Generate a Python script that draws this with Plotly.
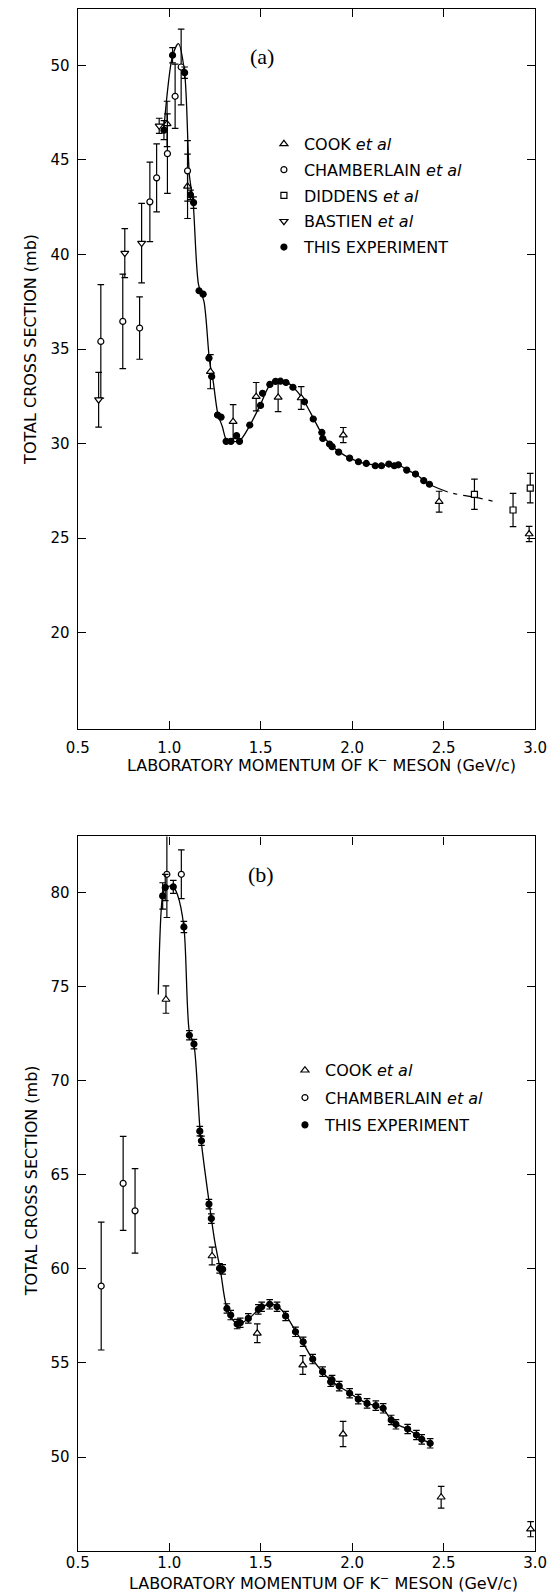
import plotly.graph_objects as go

# ---------------- Panel (a) data ----------------
cook_a_x = [0.988, 1.100, 1.225, 1.349, 1.475, 1.595, 1.721, 1.951, 2.475, 2.967]
cook_a_y = [46.9, 43.6, 33.8, 31.16, 32.48, 32.44, 32.41, 30.45, 26.93, 25.22]
cook_a_err = [1.2, 1.7, 0.9, 0.9, 0.75, 0.75, 0.6, 0.4, 0.55, 0.4]

cham_a_x = [0.626, 0.746, 0.838, 0.894, 0.931, 0.990, 1.032, 1.065, 1.100]
cham_a_y = [35.40, 36.46, 36.11, 42.78, 44.05, 45.33, 48.36, 49.91, 44.42]
cham_a_err = [3.0, 2.5, 1.65, 2.1, 1.8, 2.1, 1.7, 2.0, 1.6]

didd_a_x = [2.668, 2.879, 2.973]
didd_a_y = [27.32, 26.49, 27.65]
didd_a_err = [0.8, 0.88, 0.78]

bast_a_x = [0.614, 0.757, 0.849, 0.945]
bast_a_y = [32.32, 40.07, 40.6, 46.8]
bast_a_err = [1.45, 1.3, 2.1, 0.4]

this_a_x = [0.971, 1.018, 1.084, 1.116, 1.133, 1.163, 1.185, 1.217, 1.232, 1.264,
            1.283, 1.311, 1.337, 1.368, 1.384, 1.440, 1.499, 1.510, 1.550, 1.581,
            1.608, 1.638, 1.676, 1.739, 1.787, 1.834, 1.839, 1.876, 1.890, 1.926,
            1.986, 2.034, 2.077, 2.126, 2.160, 2.200, 2.230, 2.252, 2.298, 2.346,
            2.391, 2.422]
this_a_y = [46.57, 50.53, 49.61, 43.15, 42.74, 38.08, 37.90, 34.52, 33.55, 31.51,
            31.40, 30.12, 30.12, 30.42, 30.12, 30.98, 32.02, 32.66, 33.13, 33.29,
            33.30, 33.23, 32.98, 32.21, 31.30, 30.59, 30.27, 29.98, 29.84, 29.55,
            29.23, 29.04, 28.95, 28.83, 28.83, 28.92, 28.83, 28.88, 28.60, 28.39,
            28.04, 27.85]
this_a_err = [0.5, 0.4, 0.3, 0.25, 0.3] + [0.0] * 37

curve_a_x = [0.97, 1.018, 1.05, 1.084, 1.11, 1.13, 1.16, 1.19, 1.22, 1.24, 1.265, 1.29,
             1.315, 1.35, 1.385, 1.44, 1.50, 1.55, 1.60, 1.65, 1.70, 1.74, 1.79, 1.835,
             1.88, 1.93, 1.99, 2.05, 2.10, 2.16, 2.22, 2.26, 2.30, 2.35, 2.39, 2.42]
curve_a_y = [46.6, 50.5, 51.15, 49.6, 44.2, 42.8, 38.4, 37.5, 34.4, 33.3, 31.6, 30.9,
             30.15, 30.1, 30.15, 30.95, 32.1, 33.1, 33.35, 33.2, 32.75, 32.2, 31.3, 30.5,
             29.95, 29.55, 29.22, 29.0, 28.9, 28.84, 28.88, 28.85, 28.6, 28.38, 28.05, 27.85]
dash_a_x = [2.42, 2.53, 2.69, 2.77]
dash_a_y = [27.85, 27.42, 27.13, 26.95]

# ---------------- Panel (b) data ----------------
cook_b_x = [0.982, 1.234, 1.481, 1.730, 1.950, 2.486, 2.975]
cook_b_y = [74.33, 60.69, 56.58, 54.89, 51.22, 47.86, 46.16]
cook_b_err = [0.73, 0.47, 0.5, 0.5, 0.67, 0.58, 0.4]

cham_b_x = [0.628, 0.748, 0.813, 0.987, 1.066]
cham_b_y = [59.09, 64.55, 63.09, 80.99, 80.99]
cham_b_err = [3.4, 2.5, 2.25, 2.3, 1.3]

this_b_x = [0.964, 0.978, 1.022, 1.080, 1.110, 1.135, 1.167, 1.176, 1.217, 1.230,
            1.275, 1.292, 1.315, 1.336, 1.371, 1.388, 1.432, 1.487, 1.505, 1.549,
            1.589, 1.636, 1.690, 1.732, 1.784, 1.838, 1.882, 1.890, 1.929, 1.986,
            2.033, 2.081, 2.129, 2.169, 2.213, 2.239, 2.303, 2.351, 2.380, 2.426]
this_b_y = [79.84, 80.29, 80.32, 78.19, 72.43, 71.96, 67.33, 66.82, 63.45, 62.68,
            60.03, 59.98, 57.90, 57.55, 57.07, 57.14, 57.37, 57.85, 57.99, 58.12,
            57.99, 57.50, 56.66, 56.13, 55.21, 54.54, 54.00, 54.09, 53.77, 53.39,
            53.08, 52.85, 52.73, 52.59, 51.97, 51.74, 51.49, 51.17, 50.94, 50.73]
this_b_err = [0.7, 0.7, 0.35, 0.3] + [0.25] * 36

curve_b_x = [0.94, 0.963, 0.98, 1.02, 1.045, 1.08, 1.11, 1.135, 1.17, 1.22, 1.25, 1.28,
             1.31, 1.34, 1.37, 1.40, 1.44, 1.49, 1.55, 1.60, 1.64, 1.69, 1.73, 1.78,
             1.84, 1.89, 1.93, 1.99, 2.04, 2.09, 2.13, 2.17, 2.21, 2.24, 2.30, 2.35,
             2.38, 2.43]
curve_b_y = [74.6, 79.8, 80.3, 80.35, 79.9, 78.2, 72.6, 71.9, 67.2, 63.4, 61.4, 59.9,
             58.1, 57.4, 57.1, 57.15, 57.4, 57.85, 58.15, 57.95, 57.5, 56.7, 56.1, 55.25,
             54.5, 54.0, 53.75, 53.38, 53.05, 52.83, 52.72, 52.55, 52.0, 51.75, 51.5, 51.17,
             50.95, 50.72]

x_ticks = [0.5, 1.0, 1.5, 2.0, 2.5, 3.0]
x_ticktext = ["0.5", "1.0", "1.5", "2.0", "2.5", "3.0"]
ya_ticks = [20, 25, 30, 35, 40, 45, 50]
yb_ticks = [50, 55, 60, 65, 70, 75, 80]

# page body has an 8px default margin: size the figure so it ends at the window edge
PAGE_W, PAGE_H, BODY = 560, 1594, 8
W, H = PAGE_W - BODY, PAGE_H - BODY


def fx(p):  # screen x pixel -> paper fraction
    return (p - BODY) / W


def fy(p):  # screen y pixel -> paper fraction
    return 1 - (p - BODY) / H


SANS = "DejaVu Sans"
BLACK = "black"

fig = go.Figure()


def err(vals):
    return dict(type="data", array=vals, visible=True, color=BLACK, thickness=1.2, width=3.3)


def pts(x, y, e, sym, filled, name, xa, ya, legend, group, size=6):
    fig.add_trace(go.Scatter(
        x=x, y=y, mode="markers", name=name, xaxis=xa, yaxis=ya,
        legend=legend, legendgroup=group,
        error_y=err(e),
        marker=dict(symbol=sym, size=size, color=BLACK if filled else "white",
                    line=dict(color=BLACK, width=1.2)),
    ))


# curves
fig.add_trace(go.Scatter(x=curve_a_x, y=curve_a_y, mode="lines", xaxis="x", yaxis="y",
                         line=dict(color=BLACK, width=1.3, shape="spline", smoothing=0.8),
                         showlegend=False, hoverinfo="skip"))
fig.add_trace(go.Scatter(x=dash_a_x, y=dash_a_y, mode="lines", xaxis="x", yaxis="y",
                         line=dict(color=BLACK, width=1.2, shape="spline", dash="20px,6px,4px,6px"),
                         showlegend=False, hoverinfo="skip"))
fig.add_trace(go.Scatter(x=curve_b_x, y=curve_b_y, mode="lines", xaxis="x2", yaxis="y2",
                         line=dict(color=BLACK, width=1.3, shape="spline", smoothing=0.8),
                         showlegend=False, hoverinfo="skip"))

# panel (a) points
pts(cook_a_x, cook_a_y, cook_a_err, "triangle-up", False, "COOK <i>et al</i>", "x", "y", "legend", "a1", 7)
pts(cham_a_x, cham_a_y, cham_a_err, "circle", False, "CHAMBERLAIN <i>et al</i>", "x", "y", "legend", "a2")
pts(didd_a_x, didd_a_y, didd_a_err, "square", False, "DIDDENS <i>et al</i>", "x", "y", "legend", "a3")
pts(bast_a_x, bast_a_y, bast_a_err, "triangle-down", False, "BASTIEN <i>et al</i>", "x", "y", "legend", "a4", 7)
pts(this_a_x, this_a_y, this_a_err, "circle", True, "THIS EXPERIMENT", "x", "y", "legend", "a5")

# panel (b) points
pts(cook_b_x, cook_b_y, cook_b_err, "triangle-up", False, "COOK <i>et al</i>", "x2", "y2", "legend2", "b1", 7)
pts(cham_b_x, cham_b_y, cham_b_err, "circle", False, "CHAMBERLAIN <i>et al</i>", "x2", "y2", "legend2", "b2")
pts(this_b_x, this_b_y, this_b_err, "circle", True, "THIS EXPERIMENT", "x2", "y2", "legend2", "b3")

tickfont = dict(family=SANS, size=15, color=BLACK)


def xaxis(domain, anchor, standoff):
    return dict(domain=domain, anchor=anchor, range=[0.5, 3.0], tickvals=x_ticks, ticktext=x_ticktext,
                ticks="inside", ticklen=8, tickwidth=1.2, tickcolor=BLACK, showline=True,
                linecolor=BLACK, linewidth=1.3, mirror="ticks", showgrid=False, zeroline=False,
                tickfont=tickfont, ticklabelstandoff=standoff)


def yaxis(domain, anchor, rng, ticks):
    return dict(domain=domain, anchor=anchor, range=rng, tickvals=ticks,
                ticks="inside", ticklen=8, tickwidth=1.2, tickcolor=BLACK, showline=True,
                linecolor=BLACK, linewidth=1.3, mirror="ticks", showgrid=False, zeroline=False,
                tickfont=tickfont, ticklabelstandoff=4)


xdom = [fx(68.4), fx(546.6)]
ya_dom = [fy(728.3), fy(8.3)]
yb_dom = [fy(1551), fy(836)]

xtitle = "LABORATORY MOMENTUM OF K<sup>\u2212</sup> MESON (GeV/c)"
ytitle = "TOTAL CROSS SECTION (mb)"
title_font = dict(family=SANS, size=16, color=BLACK)

annotations = [
    dict(text=xtitle, x=fx(323), y=fy(764), xref="paper", yref="paper", showarrow=False,
         font=title_font, xanchor="center", yanchor="middle"),
    dict(text=xtitle, x=fx(325), y=fy(1582), xref="paper", yref="paper", showarrow=False,
         font=title_font, xanchor="center", yanchor="middle"),
    dict(text=ytitle, x=fx(19.6), y=fy(349), xref="paper", yref="paper", showarrow=False,
         font=title_font, textangle=-90, xanchor="center", yanchor="middle"),
    dict(text=ytitle, x=fx(19.6), y=fy(1181), xref="paper", yref="paper", showarrow=False,
         font=title_font, textangle=-90, xanchor="center", yanchor="middle"),
    dict(text="(a)", x=1.506, y=50.49, xref="x", yref="y", showarrow=False,
         font=dict(family="Liberation Serif", size=22, color=BLACK)),
    dict(text="(b)", x=1.50, y=80.99, xref="x2", yref="y2", showarrow=False,
         font=dict(family="Liberation Serif", size=22, color=BLACK)),
]

legend_font = dict(family=SANS, size=16, color=BLACK)

fig.update_layout(
    width=W, height=H,
    margin=dict(l=0, r=0, t=0, b=0),
    paper_bgcolor="white", plot_bgcolor="white",
    xaxis=xaxis(xdom, "y", 5),
    yaxis=yaxis(ya_dom, "x", [14.92, 52.96], ya_ticks),
    xaxis2=xaxis(xdom, "y2", -2),
    yaxis2=yaxis(yb_dom, "x2", [45.0, 83.0], yb_ticks),
    annotations=annotations,
    legend=dict(x=fx(263), y=fy(126), xanchor="left", yanchor="top", font=legend_font,
                bgcolor="rgba(0,0,0,0)", tracegroupgap=2, traceorder="grouped"),
    legend2=dict(x=fx(285), y=fy(1053), xanchor="left", yanchor="top", font=legend_font,
                 bgcolor="rgba(0,0,0,0)", tracegroupgap=3.5, traceorder="grouped"),
    showlegend=True,
)

fig.write_html("out.html")
